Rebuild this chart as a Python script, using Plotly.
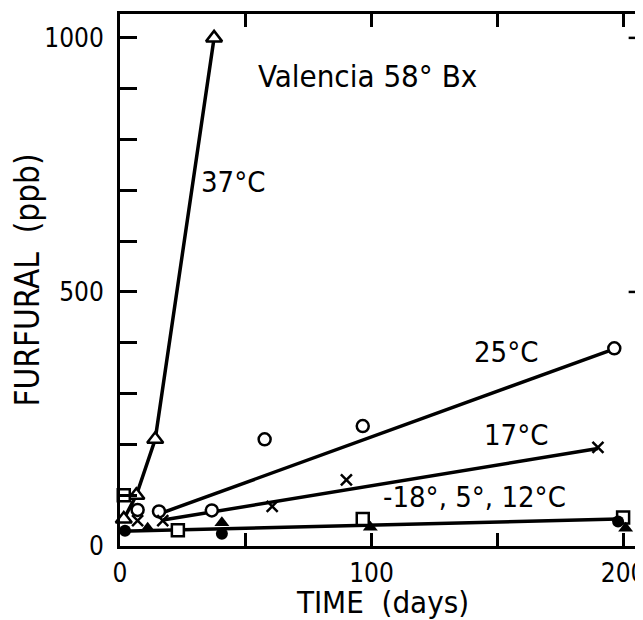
import plotly.graph_objects as go

# ---- data ----
t37_days = [1.5, 6.5, 14, 37.4]
t37_vals = [53, 100, 210, 1000]

t25_days = [7, 15.5, 36.5, 57.5, 96.5, 196.5]
t25_vals = [71, 68, 70, 210, 236, 389]
fit25_days = [16, 196]
fit25_vals = [64, 387]

t17_days = [7, 17, 60.5, 90, 190]
t17_vals = [50, 50, 78, 130, 194]
fit17_days = [17, 190]
fit17_vals = [51, 192]

cold_circle_days = [2, 40.5, 198]
cold_circle_vals = [30, 24, 48]
cold_tri_days = [11, 40.5, 99.5, 201]
cold_tri_vals = [35, 46, 37, 35]
cold_sq_days = [1.5, 23, 96.5, 200]
cold_sq_vals = [100, 31, 53, 56]
fitcold_days = [0, 198]
fitcold_vals = [29, 53]

labels = ["37°C", "25°C", "17°C", "-18°, 5°, 12°C"]
title_text = "Valencia 58° Bx"
y_ticks = [0, 500, 1000]

FONT = "DejaVu Sans Condensed, DejaVu Sans, sans-serif"
LW = 3.5

fig = go.Figure()
# lines
for xs, ys in [(fit25_days, fit25_vals), (fit17_days, fit17_vals),
               (fitcold_days, fitcold_vals), (t37_days, t37_vals)]:
    fig.add_trace(go.Scatter(x=xs, y=ys, mode="lines",
                             line=dict(color="black", width=LW), cliponaxis=False))

# markers
open_style = dict(color="white", line=dict(color="black", width=2.5))
fig.add_trace(go.Scatter(x=t37_days, y=t37_vals, mode="markers", cliponaxis=False,
                         marker=dict(symbol="triangle-up", size=14, **open_style)))
fig.add_trace(go.Scatter(x=t25_days, y=t25_vals, mode="markers", cliponaxis=False,
                         marker=dict(symbol="circle", size=12, **open_style)))
fig.add_trace(go.Scatter(x=t17_days, y=t17_vals, mode="markers", cliponaxis=False,
                         marker=dict(symbol="x-thin-open", size=11, color="black",
                                     line=dict(color="black", width=2.5))))
fig.add_trace(go.Scatter(x=cold_sq_days, y=cold_sq_vals, mode="markers", cliponaxis=False,
                         marker=dict(symbol="square", size=12, **open_style)))
fig.add_trace(go.Scatter(x=cold_circle_days, y=cold_circle_vals, mode="markers", cliponaxis=False,
                         marker=dict(symbol="circle", size=12, color="black")))
fig.add_trace(go.Scatter(x=cold_tri_days, y=cold_tri_vals, mode="markers", cliponaxis=False,
                         marker=dict(symbol="triangle-up", size=13, color="black")))

ann_font = dict(family=FONT, size=29, color="black")
fig.add_annotation(x=98.5, y=925, text=title_text, showarrow=False,
                   font=dict(family=FONT, size=31, color="black"))
fig.add_annotation(x=45, y=716, text=labels[0], showarrow=False, font=ann_font)
fig.add_annotation(x=153.5, y=381, text=labels[1], showarrow=False, font=ann_font)
fig.add_annotation(x=157.5, y=218, text=labels[2], showarrow=False, font=ann_font)
fig.add_annotation(x=141, y=96, text=labels[3], showarrow=False, font=ann_font)

# short right-hand ticks at the major y values
for v in y_ticks[1:]:
    fig.add_shape(type="line", xref="paper", yref="y", x0=0.967, x1=1.0, y0=v, y1=v,
                  line=dict(color="black", width=2.5))

fig.update_layout(
    width=643, height=612,
    margin=dict(l=112, r=5, t=6, b=74),
    paper_bgcolor="white", plot_bgcolor="white",
    showlegend=False,
    font=dict(family=FONT, size=26, color="black"),
    xaxis=dict(range=[0, 209.1], showgrid=False, zeroline=False,
               showline=True, linecolor="black", linewidth=3, mirror="ticks",
               ticks="inside", ticklen=13, tickwidth=2.5, tickcolor="black",
               dtick=100, tick0=0, ticklabelstandoff=2,
               minor=dict(dtick=50, ticks="inside", ticklen=13, tickwidth=2.5, tickcolor="black"),
               tickfont=dict(family=FONT, size=26),
               title=dict(text="TIME\u00a0\u00a0(days)", font=dict(family=FONT, size=31), standoff=9),
               automargin=False),
    yaxis=dict(range=[0, 1047], showgrid=False, zeroline=False,
               showline=True, linecolor="black", linewidth=3, mirror=False,
               ticks="inside", ticklen=17, tickwidth=2.5, tickcolor="black",
               tickvals=y_ticks, ticklabelstandoff=8,
               minor=dict(dtick=100, ticks="inside", ticklen=17, tickwidth=2.5, tickcolor="black"),
               tickfont=dict(family=FONT, size=26),
               title=dict(text="FURFURAL\u00a0\u00a0(ppb)", font=dict(family=FONT, size=33), standoff=5),
               automargin=False),
)

fig.write_html("out.html")
